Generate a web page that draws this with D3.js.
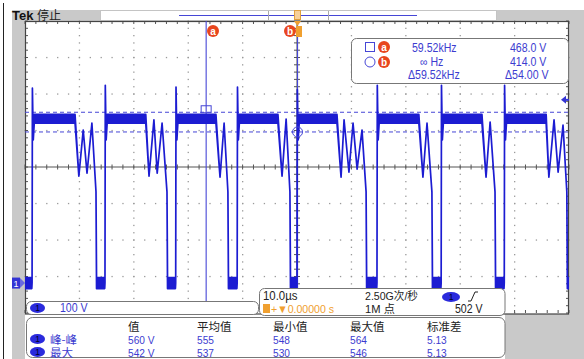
<!DOCTYPE html>
<html><head><meta charset="utf-8">
<script src="https://cdn.jsdelivr.net/npm/d3@7"></script>
<style>
html,body{margin:0;padding:0;background:#fff;}
svg{display:block;}
text{font-family:"Liberation Sans","Noto Sans CJK SC",sans-serif;}
.cjk{font-family:"Noto Sans CJK SC",sans-serif;}
</style></head><body>
<svg id="c" width="584" height="359"></svg>
<script>
// ---------------- data ----------------
const timeDomain = [-50, 50];          // µs (10 µs/div)
const centerV = 318;                    // volts at screen centre (100 V/div)
const voltsPerDiv = 100;
const riseT      = [-48.7, -35.3, -22.3, -11.0, 0.0, 14.7, 26.5, 38.1];
const spikeV     = [534, 542, 537, 537, 530, 542, 542, 542];
const plateauEndT= [-40.8, -27.8, -14.9, -3.5, 7.35, 22.4, 34.0, 45.8];
const ringT = [
  [-40.1, -39.3, -38.6, -37.7],
  [-27.2, -26.3, -25.7, -24.8],
  [-14.15, -13.4],
  [-2.75, -2.0],
  [8.1, 8.65, 9.55, 10.3, 11.05, 11.95],
  [23.15, 23.9],
  [34.75, 35.5],
  [46.3, 47.25, 48.0, 48.9]
];
const ringV = [
  [293, 419, 301, 438],
  [293, 447, 301, 438],
  [290, 438],
  [293, 449],
  [290, 447, 304, 438, 312, 419],
  [290, 438],
  [290, 441],
  [290, 447, 304, 433]
];
const fallT = [-36.95, -23.9, -12.7, -1.3, 12.7, 24.8, 36.4, 49.6];
const fallV = 250;
const undershootV = 392;
const plateauBand = [438, 462];
const lowBand = [-15, 15];

const cursorT = [-16.7, 0.1];
const cursorV = [468, 414];
const triggerV = 502;

const readoutLeft  = ["59.52kHz", "∞ Hz", "Δ59.52kHz"];
const readoutRight = ["468.0 V", "414.0 V", "Δ54.00 V"];
const chScale = "100 V";
const timebase = "10.0µs";
const trigPos = "+▼0.00000 s";
const sampleRate = "2.50G次/秒";
const recordLen = "1M 点";
const trigLevel = "502 V";
const measHeaders = ["值", "平均值", "最小值", "最大值", "标准差"];
const measLabels = ["峰-峰", "最大"];
const measRow1 = ["560 V", "555", "548", "564", "5.13"];
const measRow2 = ["542 V", "537", "530", "546", "5.13"];

// ---------------- layout ----------------
const svg = d3.select("#c");
const P = {l: 25, r: 569, t: 21, b: 313};
const x = d3.scaleLinear().domain(timeDomain).range([P.l, P.r]);
const y = d3.scaleLinear().domain([centerV - 4*voltsPerDiv, centerV + 4*voltsPerDiv]).range([P.b, P.t]);

const BLUE = "#1c1cd2", CUR = "#4646d6", TXT = "#3c3cd0", GRAY = "#c9c9c9", RED = "#e8461e", ORANGE = "#f0a030";

// narrow latin text (scope font is condensed)
function narrow(t, f){
  const n = t.node(); const w = n.getComputedTextLength();
  t.attr("textLength", (w*(f||0.85)).toFixed(1)).attr("lengthAdjust","spacingAndGlyphs");
  return t;
}

// background pieces
svg.append("rect").attr("x",0).attr("y",0).attr("width",584).attr("height",359).attr("fill","#fff");
[[12,10,88,11],[497,10,87,11],[12,21,13,338],[569,21,15,338],[505,314,79,45]].forEach(r=>
  svg.append("rect").attr("x",r[0]).attr("y",r[1]).attr("width",r[2]).attr("height",r[3]).attr("fill",GRAY));
svg.append("line").attr("x1",3.5).attr("x2",3.5).attr("y1",3).attr("y2",359).attr("stroke","#222").attr("stroke-width",1);

// title
svg.append("text").attr("x",12).attr("y",20).attr("font-size",13).attr("font-weight","bold")
  .style("font-family","'Liberation Sans',sans-serif").attr("fill","#111").text("Tek");
svg.append("text").attr("class","cjk").attr("x",37).attr("y",20).attr("font-size",12).attr("fill","#222").text("停止");

// record bar
svg.append("rect").attr("x",100.5).attr("y",10.5).attr("width",396).attr("height",10).attr("fill","#fff").attr("stroke","#c4c4c4");
svg.append("line").attr("x1",179).attr("x2",417).attr("y1",15.5).attr("y2",15.5).attr("stroke",CUR).attr("stroke-width",1.2);
[268,328].forEach(v=>svg.append("line").attr("x1",v+0.5).attr("x2",v+0.5).attr("y1",11).attr("y2",20).attr("stroke","#aaa"));
svg.append("rect").attr("x",294.5).attr("y",10.5).attr("width",6).attr("height",9).attr("fill","#f7d09a").attr("stroke","#e0a040");

// plot area
const plot = svg.append("g");
plot.append("rect").attr("x",P.l).attr("y",P.t).attr("width",P.r-P.l).attr("height",P.b-P.t).attr("fill","#fff");

const xMajor = d3.range(timeDomain[0], timeDomain[1]+0.01, 10);
const xMinor = d3.range(timeDomain[0], timeDomain[1]+0.01, 2);
const yMajor = d3.range(-4, 4.01, 1).map(k=>centerV + k*voltsPerDiv);
const yMinor = d3.range(-20, 20.01, 1).map(k=>centerV + k*voltsPerDiv/5);

// dotted grid
const dots = [];
xMajor.slice(1,-1).forEach(t=>{ if (t!==0) yMinor.forEach(v=>dots.push([x(t), y(v)])); });
yMajor.slice(1,-1).forEach(v=>{ if (v!==centerV) xMinor.forEach(t=>dots.push([x(t), y(v)])); });
plot.selectAll(".dot").data(dots).join("rect").attr("x",d=>d[0]-0.6).attr("y",d=>d[1]-0.6)
  .attr("width",1.3).attr("height",1.3).attr("fill","#9a9a9a");

// centre axes
plot.append("line").attr("x1",P.l).attr("x2",P.r).attr("y1",y(centerV)).attr("y2",y(centerV)).attr("stroke","#555").attr("stroke-width",1.2);
plot.append("line").attr("x1",x(0)).attr("x2",x(0)).attr("y1",P.t).attr("y2",P.b).attr("stroke","#555").attr("stroke-width",1);
plot.selectAll(".hct").data(xMinor).join("line").attr("x1",d=>x(d)).attr("x2",d=>x(d))
  .attr("y1",y(centerV)-2.5).attr("y2",y(centerV)+2.5).attr("stroke","#555");
plot.selectAll(".vct").data(yMinor).join("line").attr("y1",d=>y(d)).attr("y2",d=>y(d))
  .attr("x1",x(0)-3).attr("x2",x(0)+3).attr("stroke","#555");
// border ticks
plot.selectAll(".tt").data(xMinor).join("line").attr("x1",d=>x(d)).attr("x2",d=>x(d)).attr("y1",P.t).attr("y2",P.t+3).attr("stroke","#555");
plot.selectAll(".bt").data(xMinor).join("line").attr("x1",d=>x(d)).attr("x2",d=>x(d)).attr("y1",P.b-3).attr("y2",P.b).attr("stroke","#555");
plot.selectAll(".lt").data(yMinor).join("line").attr("y1",d=>y(d)).attr("y2",d=>y(d)).attr("x1",P.l).attr("x2",P.l+3).attr("stroke","#555");
plot.selectAll(".rt").data(yMinor).join("line").attr("y1",d=>y(d)).attr("y2",d=>y(d)).attr("x1",P.r-3).attr("x2",P.r).attr("stroke","#555");
plot.append("rect").attr("x",P.l+0.5).attr("y",P.t+0.5).attr("width",P.r-P.l-1).attr("height",P.b-P.t+0.5)
  .attr("fill","none").attr("stroke","#444").attr("stroke-width",1.2);

// cursors
cursorV.forEach(v=>plot.append("line").attr("x1",P.l).attr("x2",P.r).attr("y1",y(v)).attr("y2",y(v))
  .attr("stroke",CUR).attr("stroke-width",1).attr("stroke-dasharray","4,3"));
cursorT.forEach(t=>plot.append("line").attr("x1",x(t)).attr("x2",x(t)).attr("y1",P.t).attr("y2",P.b)
  .attr("stroke",CUR).attr("stroke-width",1.1));

// trace
const trace = [[timeDomain[0], lowBand[0], lowBand[1]]];
riseT.forEach((r,i)=>{
  trace.push([r-0.05, lowBand[0], lowBand[1]]);
  trace.push([r, 0, 0]);
  trace.push([r+0.06, spikeV[i], spikeV[i]]);
  trace.push([r+0.22, undershootV, undershootV]);
  trace.push([r+0.4, plateauBand[0], plateauBand[1]]);
  trace.push([plateauEndT[i], plateauBand[0], plateauBand[1]]);
  ringT[i].forEach((t,j)=>trace.push([t, ringV[i][j], ringV[i][j]]));
  trace.push([fallT[i], fallV, fallV]);
  trace.push([fallT[i]+0.1, lowBand[0], lowBand[1]]);
});
trace.push([timeDomain[1], lowBand[0], lowBand[1]]);
svg.append("clipPath").attr("id","clip").append("rect").attr("x",P.l).attr("y",P.t).attr("width",P.r-P.l).attr("height",P.b-P.t);
const area = d3.area().x(d=>x(d[0])).y0(d=>y(d[1])).y1(d=>y(d[2]));
plot.append("path").attr("clip-path","url(#clip)").attr("d",area(trace)).attr("fill",BLUE)
  .attr("stroke",BLUE).attr("stroke-width",1.7).attr("stroke-linejoin","round");

// cursor markers
plot.append("rect").attr("x",x(cursorT[0])-5).attr("y",y(cursorV[0])-6.5).attr("width",10).attr("height",7)
  .attr("fill","none").attr("stroke",CUR);
plot.append("circle").attr("cx",x(cursorT[1])).attr("cy",y(cursorV[1])).attr("r",5).attr("fill","none").attr("stroke",CUR);

function badge(cx, cy, letter){
  svg.append("circle").attr("cx",cx).attr("cy",cy).attr("r",6).attr("fill",RED);
  svg.append("text").attr("x",cx).attr("y",cy+3.5).attr("text-anchor","middle").attr("font-size",10).attr("font-weight","bold")
    .style("font-family","'Liberation Sans',sans-serif").attr("fill","#fff").text(letter);
}
badge(213, 31, "a");
badge(290, 31, "b");
// trigger position marker
svg.append("path").attr("d","M294,21 L301,21 L297.5,26 Z").attr("fill",ORANGE);
svg.append("rect").attr("x",296).attr("y",26).attr("width",6).attr("height",11).attr("fill",ORANGE);

// channel ground marker
svg.append("rect").attr("x",12).attr("y",y(0)-5.5).attr("width",8).attr("height",11).attr("fill","#3434d4");
svg.append("text").attr("x",16).attr("y",y(0)+3.5).attr("text-anchor","middle").attr("font-size",9).attr("fill","#fff").text("1");
svg.append("path").attr("d",`M20,${y(0)-5} L25,${y(0)} L20,${y(0)+5} Z`).attr("fill","#6a6ae0");
// trigger level arrow
svg.append("path").attr("d",`M561,${y(triggerV)} L566,${y(triggerV)-4} L566,${y(triggerV)+4} Z`).attr("fill","#3434d4");
svg.append("line").attr("x1",565).attr("x2",569).attr("y1",y(triggerV)).attr("y2",y(triggerV)).attr("stroke","#3434d4").attr("stroke-width",2);

// cursor readout
svg.append("rect").attr("x",351.5).attr("y",38.5).attr("width",217).attr("height",45).attr("rx",5)
  .attr("fill","#fff").attr("stroke","#777");
svg.append("rect").attr("x",365.5).attr("y",42.5).attr("width",9).attr("height",9).attr("fill","none").attr("stroke",CUR);
svg.append("circle").attr("cx",370).attr("cy",62).attr("r",5).attr("fill","none").attr("stroke",CUR);
badge(384, 47, "a");
badge(384, 62, "b");
const rLeftX = [412, 420, 408], rRightX = [510, 510, 505], rY = [52, 66, 79];
readoutLeft.forEach((s,i)=>narrow(svg.append("text").attr("x",rLeftX[i]).attr("y",rY[i]).attr("font-size",12).attr("fill",TXT).text(s), 0.88));
readoutRight.forEach((s,i)=>narrow(svg.append("text").attr("x",rRightX[i]).attr("y",rY[i]).attr("font-size",12).attr("fill",TXT).text(s), 0.88));

// pill helper
function pill(cx, cy, w){
  svg.append("ellipse").attr("cx",cx).attr("cy",cy).attr("rx",w/2).attr("ry",5).attr("fill","#2a2adc");
  svg.append("text").attr("x",cx).attr("y",cy+3.2).attr("text-anchor","middle").attr("font-size",8.5).attr("fill","#000028").text("1");
}
// channel box
svg.append("rect").attr("x",26.5).attr("y",301.5).attr("width",232).attr("height",13).attr("rx",5).attr("fill","#fff").attr("stroke","#777");
pill(37.5, 308, 15);
narrow(svg.append("text").attr("x",60).attr("y",312).attr("font-size",12).attr("fill",TXT).text(chScale), 0.88);
// timebase box
svg.append("rect").attr("x",259.5).attr("y",288.5).attr("width",245.5).attr("height",27).attr("rx",5).attr("fill","#fff").attr("stroke","#777");
narrow(svg.append("text").attr("x",263).attr("y",300).attr("font-size",12).attr("fill","#222").text(timebase), 0.95);
svg.append("rect").attr("x",263).attr("y",304).attr("width",7).attr("height",9).attr("fill",ORANGE);
narrow(svg.append("text").attr("x",271).attr("y",313).attr("font-size",11.5).attr("fill",ORANGE).text(trigPos), 0.92);
narrow(svg.append("text").attr("x",365).attr("y",300).attr("font-size",11.5).attr("fill","#222").text(sampleRate), 0.92);
narrow(svg.append("text").attr("x",365).attr("y",313).attr("font-size",11.5).attr("fill","#222").text(recordLen), 0.97);
pill(451, 297, 18);
svg.append("path").attr("d","M468,301 L471,301 L475,292 L478,292").attr("fill","none").attr("stroke","#222");
narrow(svg.append("text").attr("x",455).attr("y",313).attr("font-size",12).attr("fill","#222").text(trigLevel), 0.88);
// measurement box
svg.append("rect").attr("x",26.5).attr("y",317.5).attr("width",478.5).attr("height",40).attr("rx",6).attr("fill","#fff").attr("stroke","#777");
const colX = [128, 197, 273, 350, 427];
measHeaders.forEach((s,i)=>svg.append("text").attr("class","cjk").attr("x",colX[i]).attr("y",330.5).attr("font-size",11.5).attr("fill","#222").text(s));
[measRow1, measRow2].forEach((row,r)=>{
  const yy = [343.5, 356.5][r];
  pill(37.5, yy-4.5, 15);
  svg.append("text").attr("class","cjk").attr("x",50).attr("y",yy).attr("font-size",11.5).attr("fill",TXT).text(measLabels[r]);
  row.forEach((s,i)=>narrow(svg.append("text").attr("x",colX[i]).attr("y",yy).attr("font-size",11).attr("fill",TXT).text(s), 0.92));
});
</script>
</body></html>
